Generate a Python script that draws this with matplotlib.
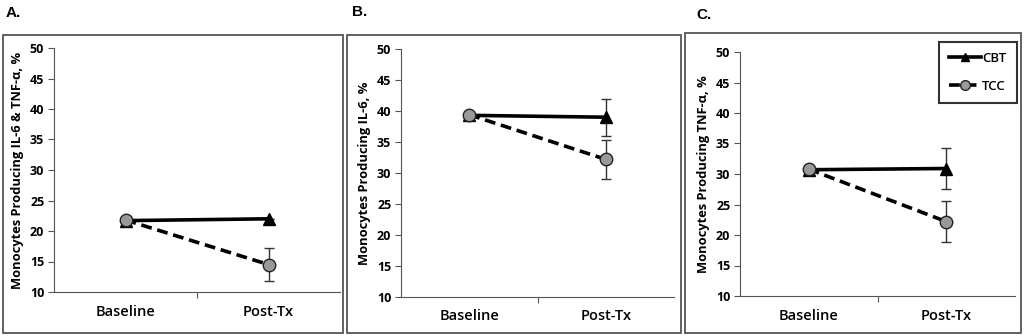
import matplotlib
matplotlib.use("Agg")
import matplotlib.pyplot as plt
from matplotlib.patches import Rectangle
from matplotlib.lines import Line2D

plt.rcParams['font.family'] = ['Open Sans', 'DejaVu Sans']

# data
timepoints = ['Baseline', 'Post-Tx']
panel_letters = ['A.', 'B.', 'C.']
ylabels = ['Monocytes Producing IL-6 & TNF-\u03b1, %',
           'Monocytes Producing IL-6, %',
           'Monocytes Producing TNF-\u03b1, %']

cbt_mean = [[21.7, 22.0], [39.3, 39.0], [30.7, 30.9]]
cbt_err = [[0.0, 0.0], [0.0, 3.0], [0.0, 3.3]]
tcc_mean = [[21.8, 14.5], [39.4, 32.2], [30.8, 22.2]]
tcc_err = [[0.0, 2.7], [0.0, 3.1], [0.0, 3.4]]

W, H = 1024, 336
fig = plt.figure(figsize=(W / 100, H / 100), dpi=100)

# pixel boxes: axes (left, right, top, bottom) and panel frames (left, right, top, bottom)
axes_px = [(54, 340, 48, 292), (401, 674, 49, 297), (740, 1015, 52, 296)]
frames_px = [(3, 343, 35, 333), (347, 681, 35, 333), (685, 1021, 33, 333)]
letter_px = [(6, 13), (352, 12), (696, 15)]

cbt_style = dict(color='black', linewidth=2.6, marker='^', markersize=8,
                 markerfacecolor='black', markeredgecolor='black')
tcc_style = dict(color='black', linewidth=2.6, linestyle=(0, (3, 1.6)), marker='o',
                 markersize=9, markerfacecolor='#999999', markeredgecolor='#222222',
                 markeredgewidth=1)
err_style = dict(ecolor='#333333', elinewidth=1, capsize=3.5, capthick=1)

for i in range(3):
    fl, fr, ft, fb = frames_px[i]
    fig.patches.append(Rectangle((fl / W, 1 - fb / H), (fr - fl) / W, (fb - ft) / H,
                                 transform=fig.transFigure, fill=False,
                                 edgecolor='#555555', linewidth=1.3))
    lx, ly = letter_px[i]
    fig.text(lx / W, 1 - ly / H, panel_letters[i], fontsize=11, fontweight='bold',
             family='Liberation Sans', va='center', ha='left')

    l, r, t, b = axes_px[i]
    ax = fig.add_axes([l / W, 1 - b / H, (r - l) / W, (b - t) / H])
    x = [0, 1]
    ax.errorbar(x, cbt_mean[i], yerr=cbt_err[i], zorder=3, **cbt_style, **err_style)
    ax.errorbar(x, tcc_mean[i], yerr=tcc_err[i], zorder=4, **tcc_style, **err_style)

    ax.set_xlim(-0.5, 1.5)
    ax.set_ylim(10, 50)
    ax.set_yticks(range(10, 51, 5))
    ax.set_yticklabels([str(v) for v in range(10, 51, 5)], fontsize=9, fontweight='bold')
    ax.set_xticks([0.5])
    ax.set_xticklabels([])
    ax.set_xticks([0, 1], minor=True)
    ax.set_xticklabels(timepoints, minor=True, fontsize=10.5, fontweight='semibold')
    ax.tick_params(axis='x', which='minor', length=0, pad=9)
    ax.tick_params(axis='x', which='major', length=4, direction='out', color='#555555')
    ax.tick_params(axis='y', length=4, direction='out', color='#555555', pad=3)
    ax.spines['top'].set_visible(False)
    ax.spines['right'].set_visible(False)
    ax.spines['left'].set_color('#555555')
    ax.spines['bottom'].set_color('#555555')
    ax.set_ylabel(ylabels[i], fontsize=9.3, fontweight='bold', labelpad=4)

    if i == 2:
        handles = [Line2D([], [], **dict(cbt_style, markersize=6)),
                   Line2D([], [], **dict(tcc_style, markersize=7))]
        leg = ax.legend(handles, ['CBT', 'TCC'], loc='upper right',
                        bbox_to_anchor=(1.007, 1.043), frameon=True,
                        fancybox=False, edgecolor='black', fontsize=9.5, handlelength=2.4,
                        handletextpad=0.1, borderpad=0.8, labelspacing=1.1, borderaxespad=0)
        leg.get_frame().set_linewidth(1.5)
        for txt in leg.get_texts():
            txt.set_fontweight('semibold')

fig.savefig('out.png', dpi=100, facecolor='white')
